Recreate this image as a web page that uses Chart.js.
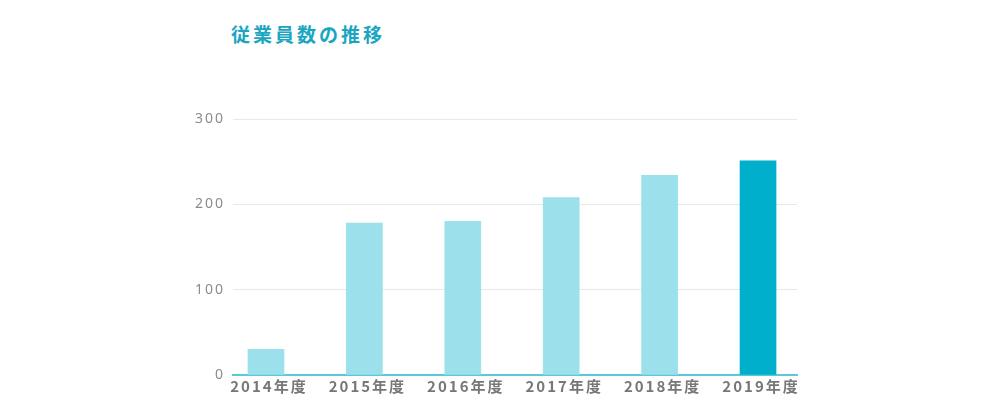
<!DOCTYPE html>
<html lang="ja">
<head>
<meta charset="utf-8">
<title>従業員数の推移</title>
<script src="https://cdn.jsdelivr.net/npm/chart.js@4.4.1/dist/chart.umd.min.js"></script>
<style>
    html, body { margin: 0; padding: 0; background: #fff; }
    body { width: 1000px; height: 420px; position: relative; overflow: hidden; }
    #titulo {
        position: absolute; left: 231px; top: 20px;
        font-family: "Noto Sans CJK JP", sans-serif;
        font-size: 19px; font-weight: 700; letter-spacing: 3px;
        color: #1aa6c2; margin: 0;
    }
    #wrap { position: absolute; left: 0; top: 0; width: 1000px; height: 420px; }
</style>
</head>
<body>
<h1 id="titulo">従業員数の推移</h1>
<div id="wrap"><canvas id="grafico"></canvas></div>
<script>
'use strict';

// ─── Datos ────────────────────────────────────────────────────────────────────
const CATEGORIAS = ['2014年度', '2015年度', '2016年度', '2017年度', '2018年度', '2019年度'];
const EMPLEADOS  = [30, 178, 180, 208, 234, 251];
const Y_TICKS    = [0, 100, 200, 300];

const COLOR_CLARO  = '#9be0eb';
const COLOR_OSCURO = '#00afcb';

// último año resaltado
const colores = EMPLEADOS.map(function (_, i) {
    return i === EMPLEADOS.length - 1 ? COLOR_OSCURO : COLOR_CLARO;
});

// letterSpacing se pierde al redimensionar el canvas, se repone en cada pasada
const espaciado = {
    id: 'espaciado',
    beforeUpdate: function (chart) { chart.ctx.letterSpacing = '2px'; },
    beforeDraw:   function (chart) { chart.ctx.letterSpacing = '2px'; },
};

const ctx = document.getElementById('grafico').getContext('2d');
new Chart(ctx, {
    type: 'bar',
    data: {
        datasets: [{
            data: EMPLEADOS.map(function (v, i) { return { x: i, y: v }; }),
            backgroundColor: colores,
            borderWidth: 0,
            barThickness: 36,
        }],
    },
    options: {
        responsive: true,
        maintainAspectRatio: false,
        animation: false,
        layout: { padding: { top: 119, right: 203, bottom: 23, left: 0 } },
        plugins: { legend: { display: false }, tooltip: { enabled: false } },
        scales: {
            x: {
                type: 'linear',
                offset: false,
                min: -0.335,
                max: 5.396,
                afterBuildTicks: function (scale) {
                    scale.ticks = CATEGORIAS.map(function (_, i) { return { value: i }; });
                },
                ticks: {
                    autoSkip: false,
                    maxRotation: 0,
                    padding: 2,
                    labelOffset: 3,
                    color: '#777777',
                    font: { family: '"Noto Sans CJK JP", sans-serif', size: 15, weight: 'bold' },
                    callback: function (val) { return CATEGORIAS[val]; },
                },
                grid: { display: false, drawTicks: false, offset: false },
                border: { display: true, color: '#5cc9d8', width: 2 },
            },
            y: {
                min: 0,
                max: 300,
                afterBuildTicks: function (scale) {
                    scale.ticks = Y_TICKS.map(function (v) { return { value: v }; });
                },
                afterFit: function (scale) { scale.width = 233; },
                ticks: {
                    padding: 8,
                    color: '#8c8c8c',
                    font: { family: '"Noto Sans", sans-serif', size: 14, weight: 'normal' },
                },
                grid: { color: '#e8e8e8', lineWidth: 1, drawTicks: false },
                border: { display: false },
            },
        },
    },
    plugins: [espaciado],
});
</script>
</body>
</html>
